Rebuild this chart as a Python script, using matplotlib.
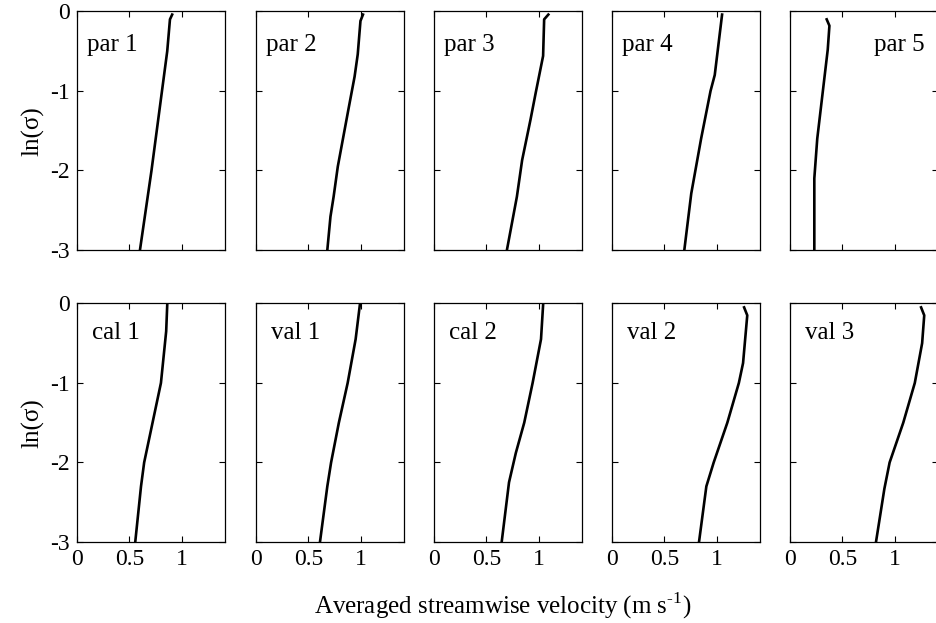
import numpy as np
import matplotlib
matplotlib.use("Agg")
import matplotlib.pyplot as plt

plt.rcParams['font.family'] = ['Liberation Serif', 'DejaVu Serif']
plt.rcParams['mathtext.fontset'] = 'custom'
plt.rcParams['mathtext.rm'] = 'Liberation Serif'

# panel names, top row then bottom row
names = ["par 1", "par 2", "par 3", "par 4", "par 5",
         "cal 1", "val 1", "cal 2", "val 2", "val 3"]

# ln(sigma) and velocity
y_par1 = [-0.04, -0.1, -0.5, -1.0, -2.0, -3.0]
u_par1 = [0.907, 0.886, 0.86, 0.81, 0.71, 0.60]
y_par2 = [-0.04, -0.12, -0.54, -0.82, -1.24, -1.95, -2.33, -2.58, -3.0]
u_par2 = [1.02, 0.996, 0.97, 0.94, 0.88, 0.78, 0.74, 0.71, 0.68]
y_par3 = [-0.04, -0.1, -0.56, -1.02, -1.36, -1.87, -2.33, -3.0]
u_par3 = [1.09, 1.05, 1.04, 0.97, 0.92, 0.84, 0.79, 0.695]
y_par4 = [-0.04, -0.8, -1.0, -1.6, -2.29, -3.0]
u_par4 = [1.05, 0.98, 0.94, 0.85, 0.756, 0.69]
y_par5 = [-0.1, -0.18, -0.48, -1.6, -2.1, -3.0]
u_par5 = [0.35, 0.376, 0.36, 0.26, 0.232, 0.232]
y_cal1 = [-0.02, -0.35, -1.0, -1.5, -2.0, -2.3, -3.0]
u_cal1 = [0.86, 0.85, 0.80, 0.72, 0.64, 0.61, 0.555]
y_val1 = [-0.02, -0.45, -1.0, -1.5, -2.0, -2.3, -3.0]
u_val1 = [0.99, 0.95, 0.874, 0.79, 0.716, 0.68, 0.61]
y_cal2 = [-0.02, -0.45, -1.0, -1.5, -1.88, -2.25, -3.0]
u_cal2 = [1.04, 1.02, 0.94, 0.86, 0.78, 0.715, 0.645]
y_val2 = [-0.05, -0.15, -0.75, -1.0, -1.5, -2.0, -2.3, -3.0]
u_val2 = [1.26, 1.29, 1.25, 1.21, 1.10, 0.97, 0.90, 0.83]
y_val3 = [-0.05, -0.15, -0.5, -1.0, -1.5, -2.0, -2.33, -3.0]
u_val3 = [1.25, 1.28, 1.26, 1.19, 1.08, 0.95, 0.90, 0.82]

ys = [y_par1, y_par2, y_par3, y_par4, y_par5,
      y_cal1, y_val1, y_cal2, y_val2, y_val3]
us = [u_par1, u_par2, u_par3, u_par4, u_par5,
      u_cal1, u_val1, u_cal2, u_val2, u_val3]

xticks = [0, 0.5, 1]
xticklabels = ["0", "0.5", "1"]
yticks = [0, -1, -2, -3]
yticklabels = ["0", "-1", "-2", "-3"]

fig = plt.figure(figsize=(9.36, 6.23), dpi=100)

lefts = [0.0823, 0.2735, 0.4637, 0.6538, 0.8440]
bottoms = [0.5987, 0.1300]
w, h = 0.158, 0.383

for k in range(10):
    row, col = divmod(k, 5)
    ax = fig.add_axes([lefts[col], bottoms[row], w, h])
    ax.plot(us[k], ys[k], color="black", lw=1.9)
    ax.set_xlim(0, 1.41)
    ax.set_ylim(-3, 0)
    ax.set_xticks(xticks)
    ax.set_yticks(yticks)
    ax.tick_params(direction="in", length=4, width=0.8, top=True, right=True,
                   labelsize=17, pad=5)
    if row == 1:
        ax.set_xticklabels(xticklabels)
    else:
        ax.set_xticklabels([])
    if col == 0:
        ax.set_yticklabels(yticklabels)
        ax.set_ylabel("ln(σ)", fontsize=18, labelpad=4)
    else:
        ax.set_yticklabels([])
    for s in ax.spines.values():
        s.set_linewidth(0.9)
    if names[k] == "par 5":
        ax.text(0.91, 0.86, names[k], transform=ax.transAxes, fontsize=18,
                ha="right", va="center")
    else:
        ax.text(0.07 if row == 0 else 0.1, 0.86 if row == 0 else 0.875, names[k],
                transform=ax.transAxes, fontsize=18, ha="left", va="center")

fig.text(0.537, 0.028, r"Averaged streamwise velocity (m s$^{\text{-1}}$)", fontsize=18,
         ha="center", va="center")

fig.savefig("out.png", dpi=100)
